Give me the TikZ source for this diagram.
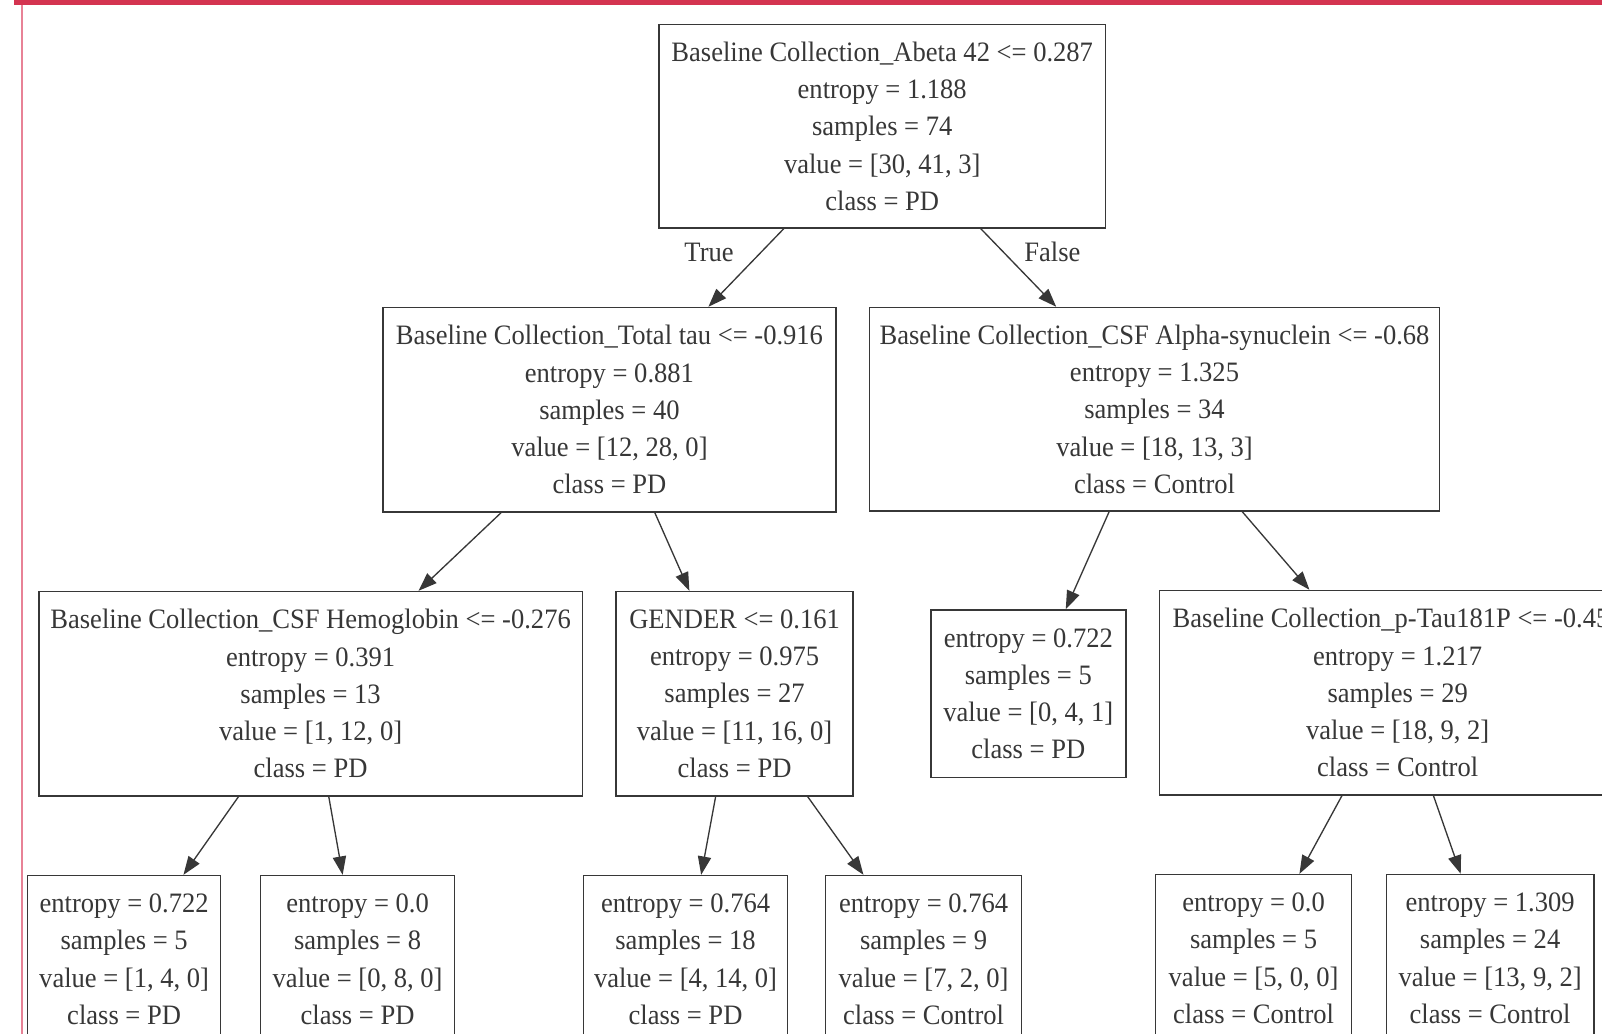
\documentclass[tikz,border=0pt]{standalone}
\usepackage{fontspec}
\setmainfont[FakeStretch=0.945]{Liberation Serif}
\usetikzlibrary{arrows.meta}
\definecolor{band}{RGB}{212,52,80}
\definecolor{pinkline}{RGB}{232,130,150}
\definecolor{ink}{RGB}{55,55,55}
\tikzset{
  tbox/.style={draw=ink, line width=1.5pt, rectangle, inner sep=0pt, align=center,
    text=ink, font=\fontsize{27.5}{36.5}\selectfont},
  edge/.style={draw=ink, line width=1.3pt, -{Triangle[length=18pt,width=13pt]}},
  elabel/.style={text=ink, font=\fontsize{27.5}{36.5}\selectfont}
}
\begin{document}
\begin{tikzpicture}[x=1pt,y=-1pt]
\useasboundingbox (0,0) rectangle (1568,1012);
\clip (0,0) rectangle (1568,1012);
\fill[white] (0,0) rectangle (1568,1012);
\fill[band] (14,0) rectangle (1568,5);
\draw[pinkline, line width=1.5pt] (21.5,5) -- (21.5,1012);

\node[tbox, minimum width=437pt, minimum height=199pt] (root) at (863.5,123.5)
 {Baseline Collection\_Abeta 42 <= 0.287\\entropy = 1.188\\samples = 74\\value = [30, 41, 3]\\class = PD};
\node[tbox, minimum width=443pt, minimum height=200pt] (tau) at (596.5,401)
 {Baseline Collection\_Total tau <= -0.916\\entropy = 0.881\\samples = 40\\value = [12, 28, 0]\\class = PD};
\node[tbox, minimum width=558pt, minimum height=199pt] (syn) at (1130,400.5)
 {Baseline Collection\_CSF Alpha-synuclein <= -0.68\\entropy = 1.325\\samples = 34\\value = [18, 13, 3]\\class = Control};
\node[tbox, minimum width=532pt, minimum height=200pt] (hemo) at (304,679)
 {Baseline Collection\_CSF Hemoglobin <= -0.276\\entropy = 0.391\\samples = 13\\value = [1, 12, 0]\\class = PD};
\node[tbox, minimum width=232pt, minimum height=200pt] (gender) at (719,679)
 {GENDER <= 0.161\\entropy = 0.975\\samples = 27\\value = [11, 16, 0]\\class = PD};
\node[tbox, minimum width=191pt, minimum height=164pt] (leafc) at (1006.5,679)
 {entropy = 0.722\\samples = 5\\value = [0, 4, 1]\\class = PD};
\node[tbox, minimum width=466pt, minimum height=200pt] (ptau) at (1368,678)
 {Baseline Collection\_p-Tau181P <= -0.45\phantom{5}\\entropy = 1.217\\samples = 29\\value = [18, 9, 2]\\class = Control};

\node[tbox, minimum width=189pt, minimum height=164pt] (l1) at (121.5,939)
 {entropy = 0.722\\samples = 5\\value = [1, 4, 0]\\class = PD};
\node[tbox, minimum width=190pt, minimum height=164pt] (l2) at (350,939)
 {entropy = 0.0\\samples = 8\\value = [0, 8, 0]\\class = PD};
\node[tbox, minimum width=200pt, minimum height=164pt] (l3) at (671,939)
 {entropy = 0.764\\samples = 18\\value = [4, 14, 0]\\class = PD};
\node[tbox, minimum width=192pt, minimum height=164pt] (l4) at (904,939)
 {entropy = 0.764\\samples = 9\\value = [7, 2, 0]\\class = Control};
\node[tbox, minimum width=192pt, minimum height=164pt] (l5) at (1227,938)
 {entropy = 0.0\\samples = 5\\value = [5, 0, 0]\\class = Control};
\node[tbox, minimum width=203pt, minimum height=164pt] (l6) at (1458.5,938)
 {entropy = 1.309\\samples = 24\\value = [13, 9, 2]\\class = Control};

\draw[edge] (root) -- (tau);
\draw[edge] (root) -- (syn);
\draw[edge] (tau) -- (hemo);
\draw[edge] (tau) -- (gender);
\draw[edge] (syn) -- (leafc);
\draw[edge] (syn) -- (ptau);
\draw[edge] (hemo) -- (l1);
\draw[edge] (hemo) -- (l2);
\draw[edge] (gender) -- (l3);
\draw[edge] (gender) -- (l4);
\draw[edge] (ptau) -- (l5);
\draw[edge] (ptau) -- (l6);

\node[elabel] (ltrue) at (694,247) {True};
\node[elabel] (lfalse) at (1030,247) {False};
\end{tikzpicture}
\end{document}
